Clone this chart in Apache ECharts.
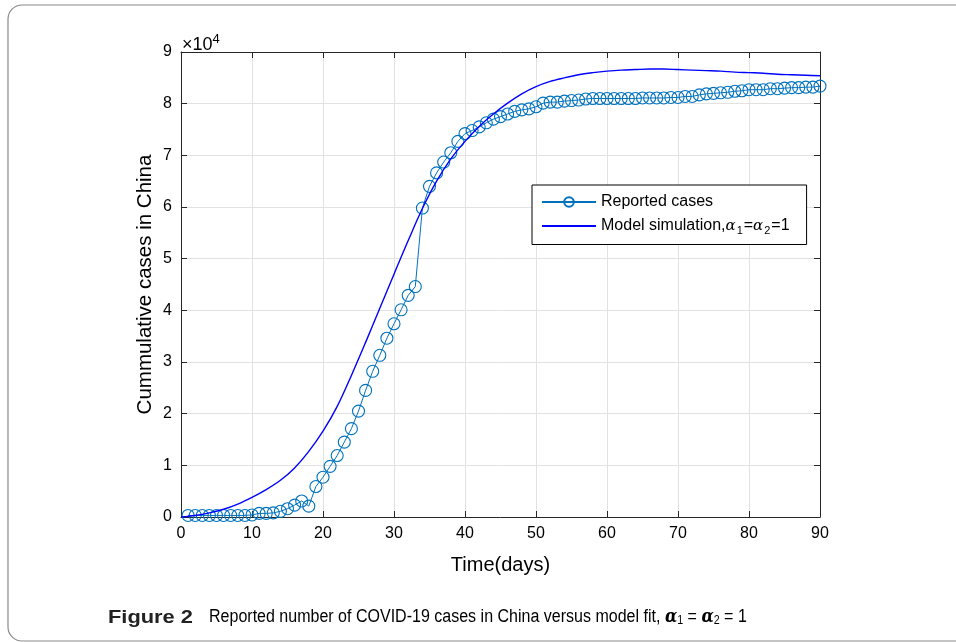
<!DOCTYPE html>
<html><head><meta charset="utf-8">
<script src="https://cdn.jsdelivr.net/npm/echarts@6/dist/echarts.min.js"></script>
<style>html,body{margin:0;padding:0;background:#fff}#c{width:956px;height:642px}</style>
</head><body><div id="c"></div>
<script>
// Day index of reported data
const days = [1,2,3,4,5,6,7,8,9,10,11,12,13,14,15,16,17,18,19,20,21,22,23,24,25,26,27,28,29,30,
  31,32,33,34,35,36,37,38,39,40,41,42,43,44,45,46,47,48,49,50,51,52,53,54,55,56,57,58,59,60,
  61,62,63,64,65,66,67,68,69,70,71,72,73,74,75,76,77,78,79,80,81,82,83,84,85,86,87,88,89,90];
// Reported cumulative cases (x 10^4)
const reported = [0.03,0.03,0.03,0.03,0.03,0.03,0.03,0.03,0.03,0.04,
  0.07,0.07,0.08,0.11,0.16,0.23,0.31,0.21,0.59,0.77,
  0.98,1.19,1.45,1.71,2.05,2.45,2.82,3.13,3.46,3.74,
  4.01,4.29,4.46,5.98,6.40,6.66,6.87,7.05,7.27,7.42,
  7.48,7.55,7.63,7.70,7.75,7.80,7.85,7.88,7.90,7.94,
  8.01,8.03,8.03,8.05,8.06,8.07,8.09,8.10,8.10,8.10,
  8.10,8.10,8.10,8.10,8.11,8.11,8.11,8.11,8.12,8.12,
  8.14,8.14,8.17,8.19,8.20,8.21,8.22,8.24,8.25,8.27,
  8.27,8.27,8.29,8.29,8.30,8.31,8.31,8.32,8.32,8.34];
// Model simulation (x 10^4)
const modelDays = [0,2,4,6,8,10,12,14,16,18,20,22,24,26,28,30,32,34,36,38,40,42,44,46,48,50,
  52,54,56,58,60,62,64,66,68,70,72,74,76,78,80,82,84,86,88,90];
const modelValues = [0.00,0.03,0.08,0.15,0.25,0.38,0.53,0.71,0.95,1.27,1.66,2.14,2.74,3.38,4.04,4.70,5.35,5.97,6.50,6.93,
  7.27,7.56,7.80,8.01,8.19,8.33,8.43,8.50,8.56,8.60,8.63,8.65,8.66,8.67,8.67,8.66,8.65,8.64,8.63,8.61,
  8.60,8.59,8.57,8.56,8.55,8.54];
const xTicks = {min:0, max:90, interval:10};
const yTicks = {min:0, max:9, interval:1};

const font = 'Liberation Sans, Arial, sans-serif';
const axisColor = '#262626';
const markerColor = '#0072BD';
const chart = echarts.init(document.getElementById('c'), null, {renderer:'canvas'});
const baseX = {type:'value', min:xTicks.min, max:xTicks.max, interval:xTicks.interval,
  axisLine:{show:true, onZero:false, lineStyle:{color:axisColor, width:1}},
  axisTick:{show:true, inside:true, length:6, lineStyle:{color:axisColor}}};
const baseY = {type:'value', min:yTicks.min, max:yTicks.max, interval:yTicks.interval,
  axisLine:{show:true, onZero:false, lineStyle:{color:axisColor, width:1}},
  axisTick:{show:true, inside:true, length:6, lineStyle:{color:axisColor}}};

chart.setOption({
  animation:false,
  backgroundColor:'#fff',
  grid:{left:181, right:136, top:52, bottom:125, containLabel:false},
  xAxis:[
    Object.assign({}, baseX, {position:'bottom',
      name:'Time(days)', nameLocation:'middle', nameGap:38,
      nameTextStyle:{fontFamily:font, fontSize:20, color:'#000'},
      axisLabel:{fontFamily:font, fontSize:16, color:'#000', margin:9},
      splitLine:{show:true, lineStyle:{color:'#e2e2e2', width:1}}}),
    Object.assign({}, baseX, {position:'top', axisLabel:{show:false}, splitLine:{show:false}})
  ],
  yAxis:[
    Object.assign({}, baseY, {position:'left',
      name:'Cummulative cases in China', nameLocation:'middle', nameGap:25, nameRotate:90,
      nameMoveOverlap:false,
      nameTextStyle:{fontFamily:font, fontSize:20.5, color:'#000'},
      axisLabel:{fontFamily:font, fontSize:16, color:'#000', margin:9},
      splitLine:{show:true, lineStyle:{color:'#e2e2e2', width:1}}}),
    Object.assign({}, baseY, {position:'right', axisLabel:{show:false}, splitLine:{show:false}})
  ],
  legend:{
    left:532, top:185, orient:'vertical',
    itemWidth:54, itemHeight:12, itemGap:8,
    padding:[9,17,8,9],
    borderColor:'#000', borderWidth:1, backgroundColor:'#fff',
    data:[{name:'Reported cases'}, {name:'Model simulation', itemStyle:{opacity:0}}],
    textStyle:{fontFamily:font, fontSize:16, color:'#000',
      rich:{
        a:{fontFamily:font, fontSize:16, color:'#000'},
        g:{fontFamily:'DejaVu Serif, serif', fontStyle:'italic', fontSize:15, color:'#000'},
        s:{fontFamily:font, fontSize:11, color:'#000', padding:[10,1,0,1]}
      }},
    formatter:function(n){
      if(n==='Model simulation') return '{a|Model simulation,}{g|α}{s|1}{a|=}{g|α}{s|2}{a|=1}';
      return n;
    }
  },
  series:[
    {name:'Reported cases', type:'line', xAxisIndex:0, yAxisIndex:0,
      data:days.map((d,i)=>[d, reported[i]]),
      symbol:'circle', symbolSize:12, showAllSymbol:true,
      lineStyle:{color:markerColor, width:1},
      itemStyle:{color:'rgba(255,255,255,0)', borderColor:markerColor, borderWidth:1.1},
      z:2},
    {name:'Model simulation', type:'line', xAxisIndex:0, yAxisIndex:0,
      data:modelDays.map((d,i)=>[d, modelValues[i]]),
      symbol:'none', smooth:0.35,
      lineStyle:{color:'#0000FF', width:1.4},
      itemStyle:{color:'#0000FF'},
      z:3}
  ],
  graphic:[
    {type:'rect', shape:{x:8, y:5, width:1000, height:636, r:14},
      style:{fill:'none', stroke:'#8a8a8a', lineWidth:1.2}, silent:true, z:-10},
    {type:'text', x:182, y:31, style:{
      text:'{a|×10}{b|4}', rich:{
        a:{fontFamily:font, fontSize:18, color:'#000', padding:[5,0,0,0]},
        b:{fontFamily:font, fontSize:13, color:'#000', padding:[0,0,7,0]}
      }}},
    {type:'text', x:108, y:608, scaleX:1.15, style:{
      text:'Figure 2', fontFamily:font, fontWeight:'bold', fontSize:19, fill:'#222'}},
    {type:'text', x:209, y:607, scaleX:0.89, style:{
      text:'{n|Reported number of COVID-19 cases in China versus model fit, }{g|α}{s|1}{n| = }{g|α}{s|2}{n| = 1}',
      rich:{
        n:{fontFamily:font, fontSize:18, color:'#333'},
        g:{fontFamily:'DejaVu Serif, serif', fontStyle:'italic', fontWeight:'bold', fontSize:18, color:'#222'},
        s:{fontFamily:font, fontSize:12, color:'#333', padding:[8,0,0,0]}
      }}}
  ]
});
</script></body></html>
